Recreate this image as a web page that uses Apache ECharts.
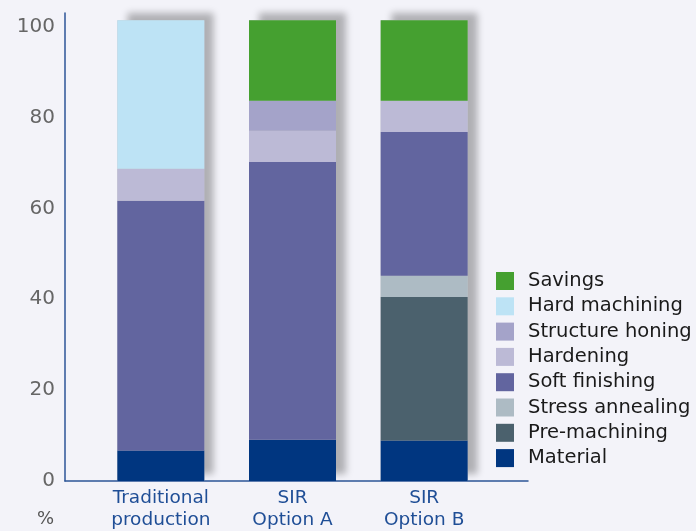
<!DOCTYPE html>
<html>
<head>
<meta charset="utf-8">
<script src="https://cdn.jsdelivr.net/npm/echarts@6/dist/echarts.min.js"></script>
<style>
    html, body { margin: 0; padding: 0; background: #f3f3f9; }
    #chartBox { width: 696px; height: 531px; }
</style>
</head>
<body>
<div id="chartBox"></div>
<script>
// categories and values (% of cost)
const categories = ['Traditional\nproduction', 'SIR\nOption A', 'SIR\nOption B'];
const material        = [6.7, 9.1, 8.9];
const preMachining    = ['-', '-', 31.6];
const stressAnnealing = ['-', '-', 4.7];
const softFinishing   = [55.0, 61.1, 31.6];
const hardening       = [7.0, 6.9, 6.9];
const structureHoning = ['-', 6.6, '-'];
const hardMachining   = [32.7, '-', '-'];
const savings         = ['-', 17.7, 17.7];
const yTicks = [0, 20, 40, 60, 80, 100];

const stackNames = ['Material', 'Pre-machining', 'Stress annealing', 'Soft finishing',
    'Hardening', 'Structure honing', 'Hard machining', 'Savings'];
const stackData = [material, preMachining, stressAnnealing, softFinishing,
    hardening, structureHoning, hardMachining, savings];
const stackColors = ['#003680', '#4b616d', '#adbbc4', '#62659f',
    '#bcbad6', '#a4a3c9', '#bde3f5', '#45a030'];

// total height of each bar, used for the drop shadow behind the stack
let totals = categories.map((c, i) => stackData.reduce((s, arr) => s + (arr[i] === '-' ? 0 : arr[i]), 0));

let myChart = echarts.init(document.getElementById('chartBox'));

let series = [{
    name: 'shadow',
    type: 'bar',
    xAxisIndex: 0,
    yAxisIndex: 0,
    barWidth: 87,
    barGap: '-100%',
    silent: true,
    z: 1,
    itemStyle: {
        color: '#c4c4c8',
        shadowColor: 'rgba(0,0,0,0.28)',
        shadowBlur: 7,
        shadowOffsetX: 10,
        shadowOffsetY: -7
    },
    data: totals
}];
stackNames.forEach((name, k) => {
    series.push({
        name: name,
        type: 'bar',
        stack: 'cost',
        xAxisIndex: 0,
        yAxisIndex: 0,
        barWidth: 87,
        barGap: '-100%',
        z: 2,
        itemStyle: { color: stackColors[k] },
        data: stackData[k]
    });
});

myChart.setOption({
    backgroundColor: '#f3f3f9',
    animation: false,
    textStyle: { fontFamily: 'DejaVu Sans' },
    grid: [
        { left: 95, width: 395, top: 13, bottom: 50 },
        { left: 65, width: 463, top: 13, bottom: 50 }
    ],
    legend: {
        orient: 'vertical',
        left: 496,
        top: 271,
        padding: 0,
        itemWidth: 18,
        itemHeight: 18,
        itemGap: 5.3,
        icon: 'rect',
        data: stackNames.slice().reverse(),
        textStyle: {
            fontSize: 19.5,
            color: '#1a1a1a',
            padding: [0, 0, 0, 9]
        }
    },
    xAxis: [{
        type: 'category',
        gridIndex: 0,
        data: categories,
        axisLine: { show: false },
        axisTick: { show: false },
        axisLabel: {
            interval: 0,
            hideOverlap: false,
            fontSize: 18.5,
            lineHeight: 22,
            color: '#1f4e96',
            margin: 6
        }
    }, {
        type: 'value',
        gridIndex: 1,
        min: 0,
        max: 1,
        axisLine: { show: true, lineStyle: { color: '#2c5597', width: 1.5 } },
        axisTick: { show: false },
        axisLabel: { show: false },
        splitLine: { show: false }
    }],
    yAxis: [{
        type: 'value',
        gridIndex: 0,
        min: 0,
        max: 103,
        show: false,
        splitLine: { show: false }
    }, {
        type: 'value',
        gridIndex: 1,
        min: 0,
        max: 103,
        interval: 20,
        axisLine: { show: true, lineStyle: { color: '#2c5597', width: 1.5 } },
        axisTick: { show: false },
        splitLine: { show: false },
        axisLabel: {
            fontSize: 20,
            color: '#666',
            margin: 10,
            showMaxLabel: false,
            formatter: (v) => yTicks.indexOf(v) >= 0 ? String(v) : ''
        }
    }],
    graphic: [{
        type: 'text',
        left: 37,
        top: 510,
        style: { text: '%', fontSize: 18, fill: '#555', fontFamily: 'DejaVu Sans' }
    }],
    series: series
});
</script>
</body>
</html>
